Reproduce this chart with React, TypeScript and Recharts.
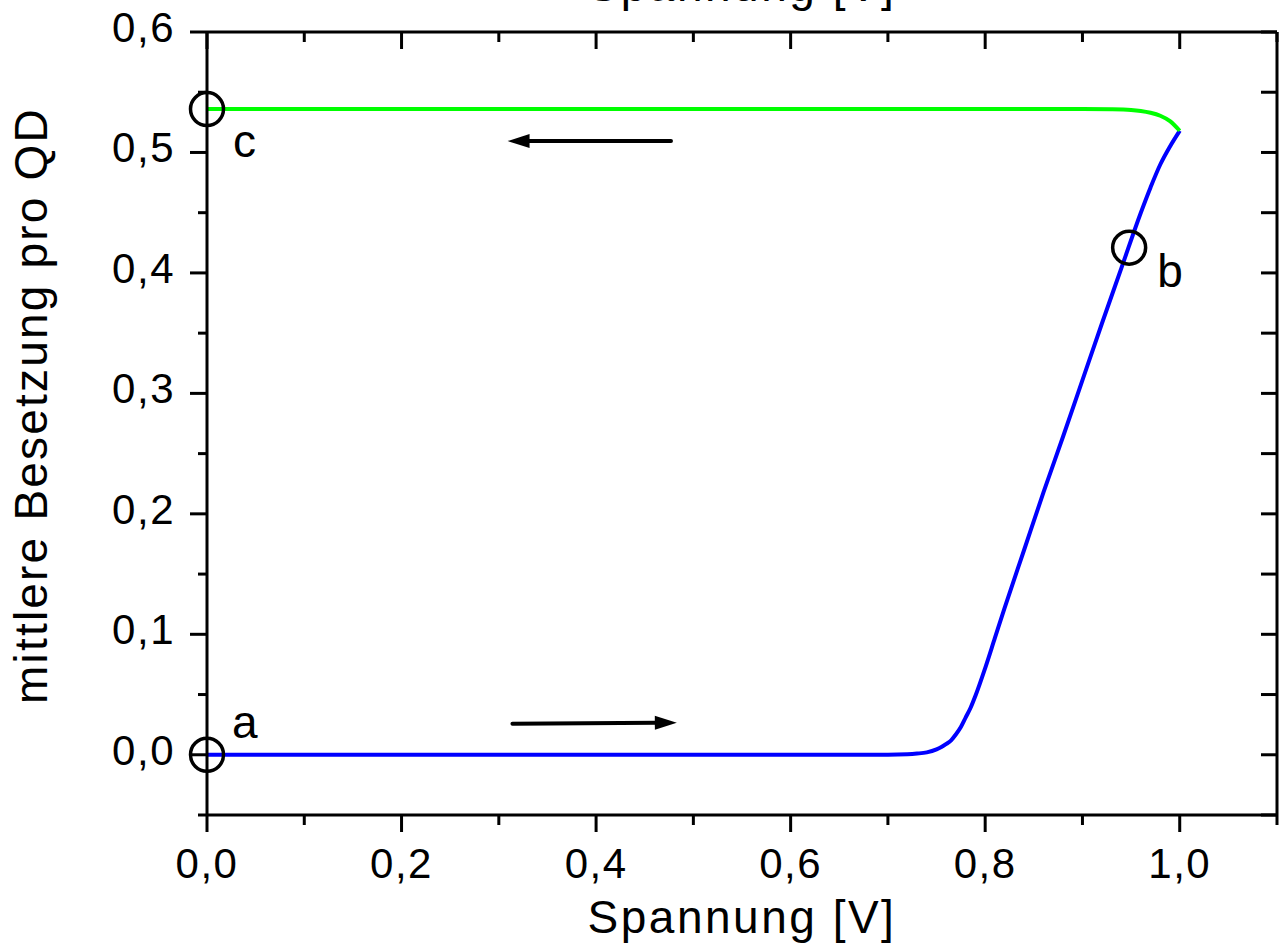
import React from 'react';
import { LineChart, Line, XAxis, YAxis, ReferenceDot, ReferenceLine } from 'recharts';

// ---- data ----
const blueX = [0, 0.1, 0.2, 0.3, 0.4, 0.5, 0.6, 0.7, 0.72, 0.73, 0.74, 0.75, 0.755, 0.76, 0.765, 0.77, 0.775, 0.78, 0.785, 0.79, 0.8, 0.81, 0.82, 0.84, 0.86, 0.88, 0.9, 0.92, 0.94, 0.96, 0.97, 0.98, 0.99, 1.0];
const blueY = [0, 0, 0, 0, 0, 0, 0, 0, 0.0004, 0.001, 0.002, 0.0045, 0.0065, 0.009, 0.012, 0.017, 0.023, 0.031, 0.039, 0.049, 0.072, 0.097, 0.122, 0.17, 0.218, 0.264, 0.311, 0.358, 0.404, 0.45, 0.471, 0.49, 0.505, 0.518];
const greenX = [0, 0.1, 0.2, 0.3, 0.4, 0.5, 0.6, 0.7, 0.8, 0.9, 0.93, 0.95, 0.96, 0.97, 0.98, 0.99, 1.0];
const greenY = [0.536, 0.536, 0.536, 0.536, 0.536, 0.536, 0.536, 0.536, 0.536, 0.536, 0.5358, 0.5353, 0.5345, 0.533, 0.5305, 0.526, 0.518];

const xTicks = [0, 0.1, 0.2, 0.3, 0.4, 0.5, 0.6, 0.7, 0.8, 0.9, 1.0, 1.1];
const yTicks = [-0.05, 0, 0.05, 0.1, 0.15, 0.2, 0.25, 0.3, 0.35, 0.4, 0.45, 0.5, 0.55, 0.6];
const xDomain = [0, 1.1];
const yDomain = [-0.05, 0.6];

const markerX = [0, 0.948, 0];
const markerY = [0, 0.421, 0.536];
const markerLabels = ['a', 'b', 'c'];

const arrowStartX = [0.477, 0.314];
const arrowStartY = [0.5095, 0.0257];
const arrowEndX = [0.309, 0.483];
const arrowEndY = [0.5095, 0.0266];

const xTitle = 'Spannung [V]';
const yTitle = 'mittlere Besetzung pro QD';

const blueData = blueX.map((x, i) => ({ x, y: blueY[i] }));
const greenData = greenX.map((x, i) => ({ x, y: greenY[i] }));

// ---- style ----
const FONT = '"Liberation Sans", Arial, Helvetica, sans-serif';
const fmt = (v: number) => v.toFixed(1).replace('.', ',');
const isMajorX = (v: number) => Math.round(v * 10) % 2 === 0;
const isMajorY = (v: number) => Math.round(v * 100) % 10 === 0;

const BottomTick = (p: any) => {
  const v = p.payload.value;
  const major = isMajorX(v);
  return (
    <g>
      <line x1={p.x} y1={p.y} x2={p.x} y2={p.y + (major ? 17 : 10)} stroke="#000" strokeWidth={3} />
      {major && v <= 1.0001 && (
        <text x={p.x} y={p.y + 63} textAnchor="middle" fontSize={42} fontFamily={FONT} letterSpacing={1.5} fill="#000">
          {fmt(v)}
        </text>
      )}
    </g>
  );
};

const TopTick = (p: any) => {
  const v = p.payload.value;
  const major = isMajorX(v);
  return <line x1={p.x} y1={p.y} x2={p.x} y2={p.y + (major ? 17 : 10)} stroke="#000" strokeWidth={3} />;
};

const LeftTick = (p: any) => {
  const v = p.payload.value;
  const major = isMajorY(v);
  return (
    <g>
      <line x1={p.x} y1={p.y} x2={p.x - (major ? 17 : 9)} y2={p.y} stroke="#000" strokeWidth={3} />
      {major && (
        <text x={p.x - 32} y={p.y + 10} textAnchor="end" fontSize={42} fontFamily={FONT} letterSpacing={1.5} fill="#000">
          {fmt(v)}
        </text>
      )}
    </g>
  );
};

const RightTick = (p: any) => (
  <line x1={p.x} y1={p.y} x2={p.x - 16} y2={p.y} stroke="#000" strokeWidth={3} />
);

const BottomLabel = (p: any) => {
  const vb = p.viewBox || { x: 207, y: 815, width: 1070, height: 131 };
  return (
    <text x={vb.x + vb.width / 2} y={vb.y + 118} textAnchor="middle" fontSize={46} fontFamily={FONT} letterSpacing={2.5} fill="#000">
      {xTitle}
    </text>
  );
};

const TopLabel = (p: any) => {
  const vb = p.viewBox || { x: 207, y: 0, width: 1070, height: 32 };
  return (
    <text x={vb.x + vb.width / 2} y={vb.y + vb.height - 31} textAnchor="middle" fontSize={46} fontFamily={FONT} letterSpacing={2.5} fill="#000">
      {xTitle}
    </text>
  );
};

const LeftLabel = (p: any) => {
  const vb = p.viewBox || { x: 0, y: 32, width: 207, height: 783 };
  const cx = vb.x + 47;
  const cy = vb.y + vb.height / 2 - 18;
  return (
    <text x={cx} y={cy} transform={`rotate(-90 ${cx} ${cy})`} textAnchor="middle" fontSize={46} fontFamily={FONT} letterSpacing={2.2} fill="#000">
      {yTitle}
    </text>
  );
};

const markerOffsets = [
  { dx: 25, dy: -17 },
  { dx: 28, dy: 39 },
  { dx: 26, dy: 48 },
];

const makeMarker = (i: number) => (p: any) => (
  <g>
    <circle cx={p.cx} cy={p.cy} r={16.5} fill="none" stroke="#000" strokeWidth={3.5} />
    <text x={p.cx + markerOffsets[i].dx} y={p.cy + markerOffsets[i].dy} fontSize={46} fontFamily={FONT} fill="#000">
      {markerLabels[i]}
    </text>
  </g>
);

const ArrowShape = (p: any) => {
  const { x1, y1, x2, y2 } = p;
  const dx = x2 - x1;
  const dy = y2 - y1;
  const len = Math.sqrt(dx * dx + dy * dy) || 1;
  const ux = dx / len;
  const uy = dy / len;
  const headLen = 22;
  const headW = 7;
  const bx = x2 - ux * headLen;
  const by = y2 - uy * headLen;
  const pts = `${x2},${y2} ${bx - uy * headW},${by + ux * headW} ${bx + uy * headW},${by - ux * headW}`;
  return (
    <g>
      <line x1={x1} y1={y1} x2={bx + ux * 2} y2={by + uy * 2} stroke="#000" strokeWidth={4} strokeLinecap="round" />
      <polygon points={pts} fill="#000" />
    </g>
  );
};

export default function App() {
  return (
    <div style={{ position: 'absolute', left: 0, top: 0, width: 1279, height: 946, background: '#fff' }}>
      <LineChart width={1279} height={946} margin={{ top: 0, right: 0, bottom: 0, left: 0 }}>
        <XAxis
          xAxisId="bottom"
          dataKey="x"
          type="number"
          domain={xDomain}
          ticks={xTicks}
          interval={0}
          allowDataOverflow
          orientation="bottom"
          height={131}
          tickSize={0}
          tickMargin={0}
          tickLine={false}
          tick={<BottomTick />}
          axisLine={{ stroke: '#000', strokeWidth: 3 }}
          label={<BottomLabel />}
        />
        <XAxis
          xAxisId="top"
          dataKey="x"
          type="number"
          domain={xDomain}
          ticks={xTicks}
          interval={0}
          allowDataOverflow
          orientation="top"
          height={32}
          tickSize={0}
          tickMargin={0}
          tickLine={false}
          tick={<TopTick />}
          axisLine={{ stroke: '#000', strokeWidth: 3 }}
          label={<TopLabel />}
        />
        <YAxis
          yAxisId="left"
          type="number"
          domain={yDomain}
          ticks={yTicks}
          interval={0}
          allowDataOverflow
          orientation="left"
          width={207}
          tickSize={0}
          tickMargin={0}
          tickLine={false}
          tick={<LeftTick />}
          axisLine={{ stroke: '#000', strokeWidth: 3 }}
          label={<LeftLabel />}
        />
        <YAxis
          yAxisId="right"
          type="number"
          domain={yDomain}
          ticks={yTicks}
          interval={0}
          allowDataOverflow
          orientation="right"
          width={2}
          tickSize={0}
          tickMargin={0}
          tickLine={false}
          tick={<RightTick />}
          axisLine={{ stroke: '#000', strokeWidth: 3 }}
        />
        <Line
          xAxisId="bottom"
          yAxisId="left"
          data={blueData}
          dataKey="y"
          type="monotone"
          stroke="#0000ff"
          strokeWidth={4}
          dot={false}
          activeDot={false}
          isAnimationActive={false}
        />
        <Line
          xAxisId="bottom"
          yAxisId="left"
          data={greenData}
          dataKey="y"
          type="monotone"
          stroke="#00ff00"
          strokeWidth={4}
          dot={false}
          activeDot={false}
          isAnimationActive={false}
        />
        {arrowStartX.map((_, i) => (
          <ReferenceLine
            key={`arrow-${i}`}
            xAxisId="bottom"
            yAxisId="left"
            segment={[
              { x: arrowStartX[i], y: arrowStartY[i] },
              { x: arrowEndX[i], y: arrowEndY[i] },
            ]}
            shape={ArrowShape}
          />
        ))}
        {markerX.map((_, i) => (
          <ReferenceDot
            key={`m-${i}`}
            xAxisId="bottom"
            yAxisId="left"
            x={markerX[i]}
            y={markerY[i]}
            r={16.5}
            shape={makeMarker(i)}
          />
        ))}
      </LineChart>
    </div>
  );
}
